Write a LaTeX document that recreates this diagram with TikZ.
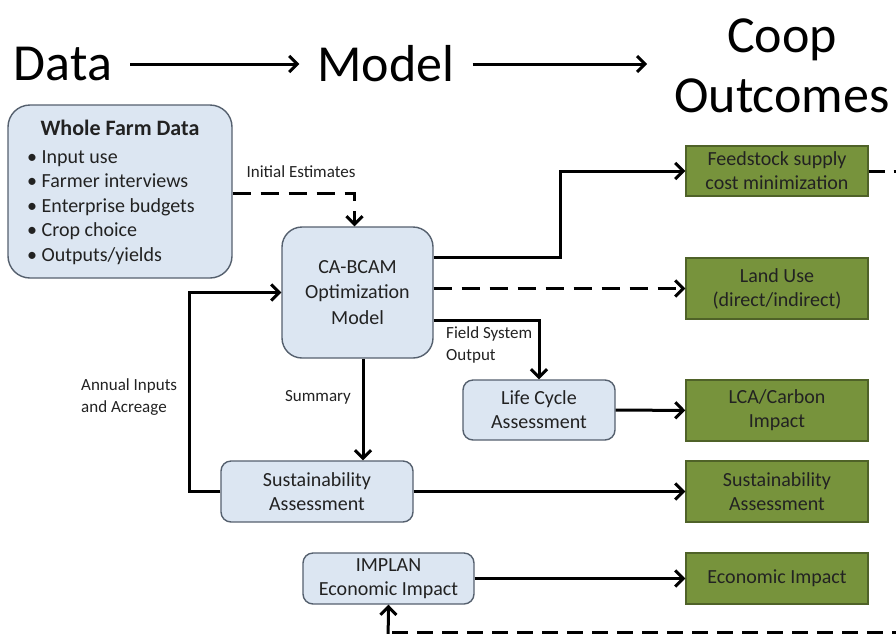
\documentclass[tikz,border=0pt]{standalone}
\usepackage{fontspec}
\setmainfont{Carlito}
\usetikzlibrary{arrows.meta,positioning,calc}
\definecolor{boxblue}{HTML}{DCE6F2}
\definecolor{boxedge}{HTML}{55606E}
\definecolor{outgreen}{HTML}{77933C}
\definecolor{outedge}{HTML}{4F6228}
\definecolor{inkgray}{HTML}{222222}

\begin{document}
\begin{tikzpicture}[
        x=1pt, y=-1pt,
        font=\fontsize{20}{24}\selectfont,
        >={Straight Barb[length=8pt,width=16pt]},
        heading/.style={font=\fontsize{52}{60}\selectfont,inner sep=0pt,align=center},
        model/.style={rectangle,rounded corners=10pt,draw=boxedge,fill=boxblue,line width=1.4pt,align=center,text=inkgray,inner sep=0pt},
        outcome/.style={rectangle,draw=outedge,fill=outgreen,line width=1.4pt,align=center,text=inkgray,inner sep=0pt,minimum width=182pt},
        tag/.style={font=\fontsize{17}{22}\selectfont,align=left,text=inkgray,inner sep=0pt},
        flow/.style={->,line width=3pt},
        dashflow/.style={->,line width=3pt,dash pattern=on 18pt off 10pt},
        dashline/.style={line width=3pt,dash pattern=on 16pt off 9pt}
    ]
        \useasboundingbox (0,0) rectangle (896,633);
        \clip (0,0) rectangle (896,633);

        % headings
        \node[heading] (data) at (63,64) {Data};
        \node[heading] (model) at (386,64) {Model};
        \node[heading] (coop) at (782,66) {Coop\\Outcomes};
        \draw[flow,shorten <=18pt,shorten >=18pt] (data) -- (model);
        \draw[flow,shorten <=18pt,shorten >=27pt] (model.east) -- (model.east -| coop.west);

        % model boxes
        \node[model,rounded corners=22pt,minimum width=224pt,minimum height=173pt] (wfd) at (120,191.5) {};
        \node[font=\fontsize{22}{26}\selectfont\bfseries,text=inkgray] (wfdtitle) at (120,128) {Whole Farm Data};
        \node[align=left,anchor=north west,inner sep=0pt,text=inkgray,font=\fontsize{20}{24.5}\selectfont] (wfdlist) at (27,150)
            {\textbullet\ Input use\\\textbullet\ Farmer interviews\\\textbullet\ Enterprise budgets\\\textbullet\ Crop choice\\\textbullet\ Outputs/yields};
        \node[model,rounded corners=20pt,minimum width=151pt,minimum height=131pt,font=\fontsize{20}{25.5}\selectfont] (cabcam) at (357.5,292.5) {CA-BCAM\\Optimization\\Model};
        \node[model,minimum width=152pt,minimum height=60pt] (lca) at (539,410) {Life Cycle\\Assessment};
        \node[model,minimum width=192pt,minimum height=61pt] (sust) at (317,491.5) {Sustainability\\Assessment};
        \node[model,minimum width=171pt,minimum height=51pt] (implan) at (388.5,578.5) {IMPLAN\\Economic Impact};

        % outcome boxes
        \node[outcome,minimum height=50pt] (feed) at (777,171) {Feedstock supply\\cost minimization};
        \node[outcome,minimum height=61pt] (land) at (777,288.5) {Land Use\\(direct/indirect)};
        \node[outcome,minimum height=61pt] (carbon) at (777,410.5) {LCA/Carbon\\Impact};
        \node[outcome,minimum height=61pt] (sustout) at (777,491.5) {Sustainability\\Assessment};
        \node[outcome,minimum height=51pt] (econ) at (777,578.5) {Economic Impact};

        % labels
        \node[tag] (initag) at (301,172) {Initial Estimates};
        \node[tag,anchor=north west] (fieldtag) at (446,326) {Field System\\Output};
        \node[tag] (sumtag) at (318,397) {Summary};
        \node[tag,anchor=west] (annualtag) at (81,397) {Annual Inputs\\and Acreage};

        % connectors
        \draw[dashflow] ([yshift=-1.5pt]wfd.east) -| ([xshift=-3pt]cabcam.north);
        \draw[flow] ([yshift=35.5pt]cabcam.east) -- ++(127,0) |- (feed.west);
        \draw[dashflow] (cabcam.east |- land.west) -- (land.west);
        \draw[flow] ([yshift=-27.5pt]cabcam.east) -| (lca.north);
        \draw[flow] (lca) -- (carbon);
        \draw[flow] ([xshift=5.5pt]cabcam.south) -- ([xshift=5.5pt]cabcam.south |- sust.north);
        \draw[flow] (sust.west) -- ++(-31,0) |- (cabcam.west);
        \draw[flow] (sust) -- (sustout);
        \draw[flow] (implan) -- (econ);

        % feedback leaving the frame
        \coordinate (feedout) at (900,171);
        \coordinate (loopin) at (388,645);
        \coordinate (loopa) at (392,632);
        \coordinate (loopb) at (900,632);
        \draw[dashline] (feed.east) -- (feedout);
        \draw[flow] (loopin) -- (implan.south);
        \draw[dashline] (loopa) -- (loopb);
    \end{tikzpicture}
\end{document}
